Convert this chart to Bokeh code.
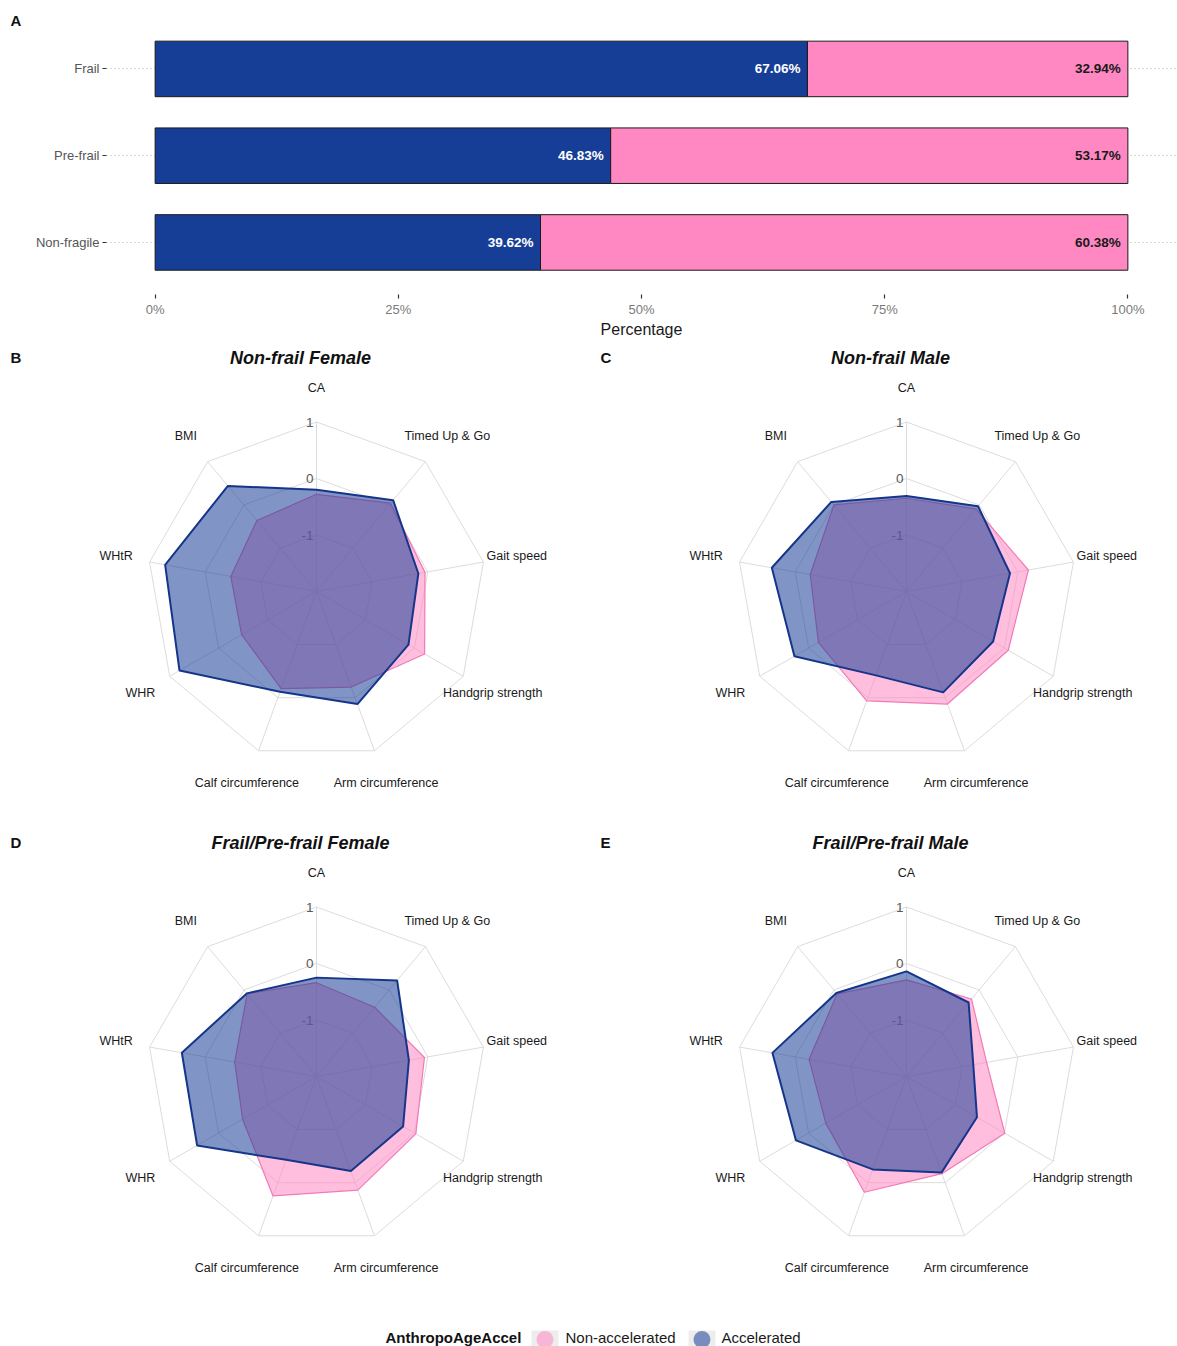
import numpy as np
from bokeh.plotting import figure
from bokeh.models import Range1d, ColumnDataSource, Label, FixedTicker
from bokeh.layouts import column, row
from bokeh.embed import file_html
from bokeh.resources import INLINE
from bokeh.core.properties import value

FONT = "Liberation Sans"

# ---------------- Panel A: share of accelerated ageing per frailty group
frailty_groups = ["Non-fragile", "Pre-frail", "Frail"]
accelerated_pct = [39.62, 46.83, 67.06]
non_accelerated_pct = [60.38, 53.17, 32.94]
pct_ticks = [0, 25, 50, 75, 100]

# ---------------- Panels B-E: standardised domain means (z-scores)
domains = ["CA", "Timed Up & Go", "Gait speed", "Handgrip strength",
           "Arm circumference", "Calf circumference", "WHR", "WHtR", "BMI"]
grid_levels = [-1, 0, 1]
grid_min = -2

nf_female_non = [-0.28, 0.04, -0.05, 0.21, -0.20, -0.17, -0.47, -0.46, -0.36]
nf_female_acc = [-0.20, 0.11, -0.17, -0.12, 0.12, -0.11, 0.80, 0.72, 0.44]

nf_male_non = [-0.35, -0.09, 0.19, 0.08, 0.12, 0.06, -0.20, -0.27, 0.00]
nf_male_acc = [-0.31, -0.03, -0.14, -0.23, -0.10, -0.42, 0.29, 0.42, 0.07]

fp_female_non = [-0.34, -0.40, -0.06, 0.03, 0.14, 0.25, -0.49, -0.53, -0.09]
fp_female_acc = [-0.25, 0.22, -0.34, -0.23, -0.22, -0.43, 0.44, 0.42, -0.08]

fp_male_non = [-0.29, -0.21, -0.56, 0.01, -0.17, 0.18, -0.35, -0.25, -0.09]
fp_male_acc = [-0.14, -0.29, -0.80, -0.56, -0.19, -0.25, 0.26, 0.41, -0.07]

group_names = ["Non-accelerated", "Accelerated"]

ACC_COL = "#173E96"
NON_COL = "#FF88C2"
ACC_LINE = "#15358A"
NON_LINE = "#F27AB6"
FILL_ALPHA = 0.55


def style_axis(ax):
    ax.axis_line_color = None
    ax.major_tick_out = 4
    ax.major_tick_in = 0
    ax.major_tick_line_color = "#333333"
    ax.major_tick_line_width = 1.2
    ax.minor_tick_line_color = None
    ax.major_label_text_font = FONT
    ax.major_label_text_font_size = "13px"
    ax.major_label_text_color = "#7a7a7a"


def letter_label(text, y_from_bottom):
    return Label(x=10, y=y_from_bottom, x_units="screen", y_units="screen",
                 text=text, text_align="left", text_baseline="middle",
                 text_font=FONT, text_font_style="bold",
                 text_font_size="15px", text_color="#111111")


def blank_figure(width, height, x_end, y_end):
    p = figure(width=width, height=height, x_range=Range1d(0, x_end),
               y_range=Range1d(0, y_end), x_axis_location=None,
               y_axis_location=None, output_backend="svg",
               toolbar_location=None, min_border=0)
    p.outline_line_color = None
    p.grid.visible = False
    return p


# ---------------- Panel A
HEAD_H = 28
header = blank_figure(1177, HEAD_H, 1177, HEAD_H)
header.add_layout(letter_label("A", HEAD_H - 20))

# categories sit one unit apart; 0.6 unit of padding below the first bar
group_pos = list(range(1, len(frailty_groups) + 1))
total_pct = [a + n for a, n in zip(accelerated_pct, non_accelerated_pct)]
bar_src = ColumnDataSource(dict(
    pos=group_pos,
    acc=accelerated_pct,
    total=total_pct,
    acc_lbl=[f"{v:.2f}%" for v in accelerated_pct],
    non_lbl=[f"{v:.2f}%" for v in non_accelerated_pct],
))

bar = figure(width=1177, height=340 - HEAD_H,
             y_range=Range1d(0.4, 3.466),
             x_range=Range1d(-5, 105),
             output_backend="svg", toolbar_location=None,
             min_border_left=106, min_border_right=1,
             min_border_top=0, min_border_bottom=42)
bar.outline_line_color = None
bar.xgrid.grid_line_color = None
bar.ygrid.grid_line_color = "#b0b0b0"
bar.ygrid.grid_line_dash = "1 3"
bar.ygrid.grid_line_width = 1.2

bar.hbar(y="pos", left=0, right="acc", height=0.64, source=bar_src,
         fill_color=ACC_COL, line_color="#1a1a1a", line_width=1)
bar.hbar(y="pos", left="acc", right="total", height=0.64, source=bar_src,
         fill_color=NON_COL, line_color="#1a1a1a", line_width=1)
bar.text(x="acc", y="pos", text="acc_lbl", source=bar_src,
         text_align="right", text_baseline="middle", x_offset=-7,
         text_color="white", text_font_style="bold",
         text_font_size="13.5px", text_font=value(FONT))
bar.text(x="total", y="pos", text="non_lbl", source=bar_src,
         text_align="right", text_baseline="middle", x_offset=-7,
         text_color="#1a1a1a", text_font_style="bold",
         text_font_size="13.5px", text_font=value(FONT))

style_axis(bar.xaxis[0])
style_axis(bar.yaxis[0])
bar.yaxis.ticker = FixedTicker(ticks=group_pos)
bar.yaxis.major_label_overrides = dict(zip(group_pos, frailty_groups))
bar.yaxis.major_label_text_color = "#555555"
bar.yaxis.major_label_standoff = 3
bar.xaxis.ticker = FixedTicker(ticks=pct_ticks)
bar.xaxis.major_label_overrides = {t: f"{t}%" for t in pct_ticks}
bar.xaxis.major_label_standoff = 3
bar.xaxis.axis_label = "Percentage"
bar.xaxis.axis_label_standoff = 1
bar.xaxis.axis_label_text_font = FONT
bar.xaxis.axis_label_text_font_style = "normal"
bar.xaxis.axis_label_text_font_size = "16px"
bar.xaxis.axis_label_text_color = "#1a1a1a"

# ---------------- Radar panels
PANEL_H = 485
CX, CY = 316, 251          # pixel position of the radar centre in a panel
U = 56.5                   # pixels per z-score unit
LABEL_R = 3.6              # radius of the domain labels (in units)

n_dom = len(domains)
theta = 2 * np.pi * np.arange(n_dom) / n_dom
sin_t, cos_t = np.sin(theta), np.cos(theta)


def radial_xy(vals):
    rho = np.asarray(vals, dtype=float) - grid_min
    return list(rho * sin_t), list(rho * cos_t)


def radar_panel(letter, title, non_vals, acc_vals, width):
    p = figure(width=width, height=PANEL_H,
               x_range=Range1d(-CX / U, (width - CX) / U),
               y_range=Range1d(-(PANEL_H - CY) / U, CY / U),
               x_axis_location=None, y_axis_location=None,
               output_backend="svg", toolbar_location=None, min_border=0)
    p.outline_line_color = None
    p.grid.visible = False

    # rings and spokes
    ring_xs, ring_ys = [], []
    for lev in grid_levels:
        xs, ys = radial_xy([lev] * n_dom)
        ring_xs.append(xs + xs[:1])
        ring_ys.append(ys + ys[:1])
    outer = max(grid_levels) - grid_min
    for s, c in zip(sin_t, cos_t):
        ring_xs.append([0, outer * s])
        ring_ys.append([0, outer * c])
    p.multi_line(ring_xs, ring_ys, line_color="#dcdcdc", line_width=1)

    # tick labels on the top spoke
    p.text(x=[0] * len(grid_levels),
           y=[lev - grid_min for lev in grid_levels],
           text=[str(lev) for lev in grid_levels],
           text_align="right", text_baseline="middle", x_offset=-3,
           text_color="#5a5a5a", text_font_size="13.5px",
           text_font=value(FONT))

    # group polygons
    nx, ny = radial_xy(non_vals)
    p.patch(nx, ny, fill_color=NON_COL, fill_alpha=FILL_ALPHA,
            line_color=NON_LINE, line_width=1.2)
    ax_, ay_ = radial_xy(acc_vals)
    p.patch(ax_, ay_, fill_color=ACC_COL, fill_alpha=FILL_ALPHA,
            line_color=ACC_LINE, line_width=2)

    # domain labels
    p.text(x=list(LABEL_R * sin_t), y=list(LABEL_R * cos_t), text=domains,
           text_align="center", text_baseline="middle",
           text_color="#1a1a1a", text_font_size="12.5px",
           text_font=value(FONT))

    p.add_layout(Label(x=300, y=PANEL_H - 17, x_units="screen",
                       y_units="screen", text=title, text_align="center",
                       text_baseline="middle", text_font=FONT,
                       text_font_style="bold italic", text_font_size="18px",
                       text_color="#111111"))
    p.add_layout(letter_label(letter, PANEL_H - 17))
    return p


pB = radar_panel("B", "Non-frail Female", nf_female_non, nf_female_acc, 590)
pC = radar_panel("C", "Non-frail Male", nf_male_non, nf_male_acc, 587)
pD = radar_panel("D", "Frail/Pre-frail Female", fp_female_non, fp_female_acc, 590)
pE = radar_panel("E", "Frail/Pre-frail Male", fp_male_non, fp_male_acc, 587)

# ---------------- Shared legend strip
leg = blank_figure(1177, 36, 1177, 36)
leg.text(x=[385], y=[9], text=["AnthropoAgeAccel"], text_align="left",
         text_baseline="middle", text_font_style="bold",
         text_font_size="15px", text_color="#111111", text_font=value(FONT))
key_x = [544.5, 701.5]
leg.rect(x=key_x, y=[2.5, 2.5], width=27, height=27,
         fill_color="#ededed", line_color=None)
leg.scatter(x=key_x, y=[7, 7], size=17, marker="circle",
            fill_color=[NON_COL, ACC_COL], fill_alpha=FILL_ALPHA,
            line_color=None)
leg.text(x=[565, 721], y=[9, 9], text=group_names, text_align="left",
         text_baseline="middle", text_font_size="15px",
         text_color="#1a1a1a", text_font=value(FONT))

layout = column(row(header), row(bar), row(pB, pC), row(pD, pE), row(leg))

with open("out.html", "w") as f:
    f.write(file_html(layout, INLINE))
